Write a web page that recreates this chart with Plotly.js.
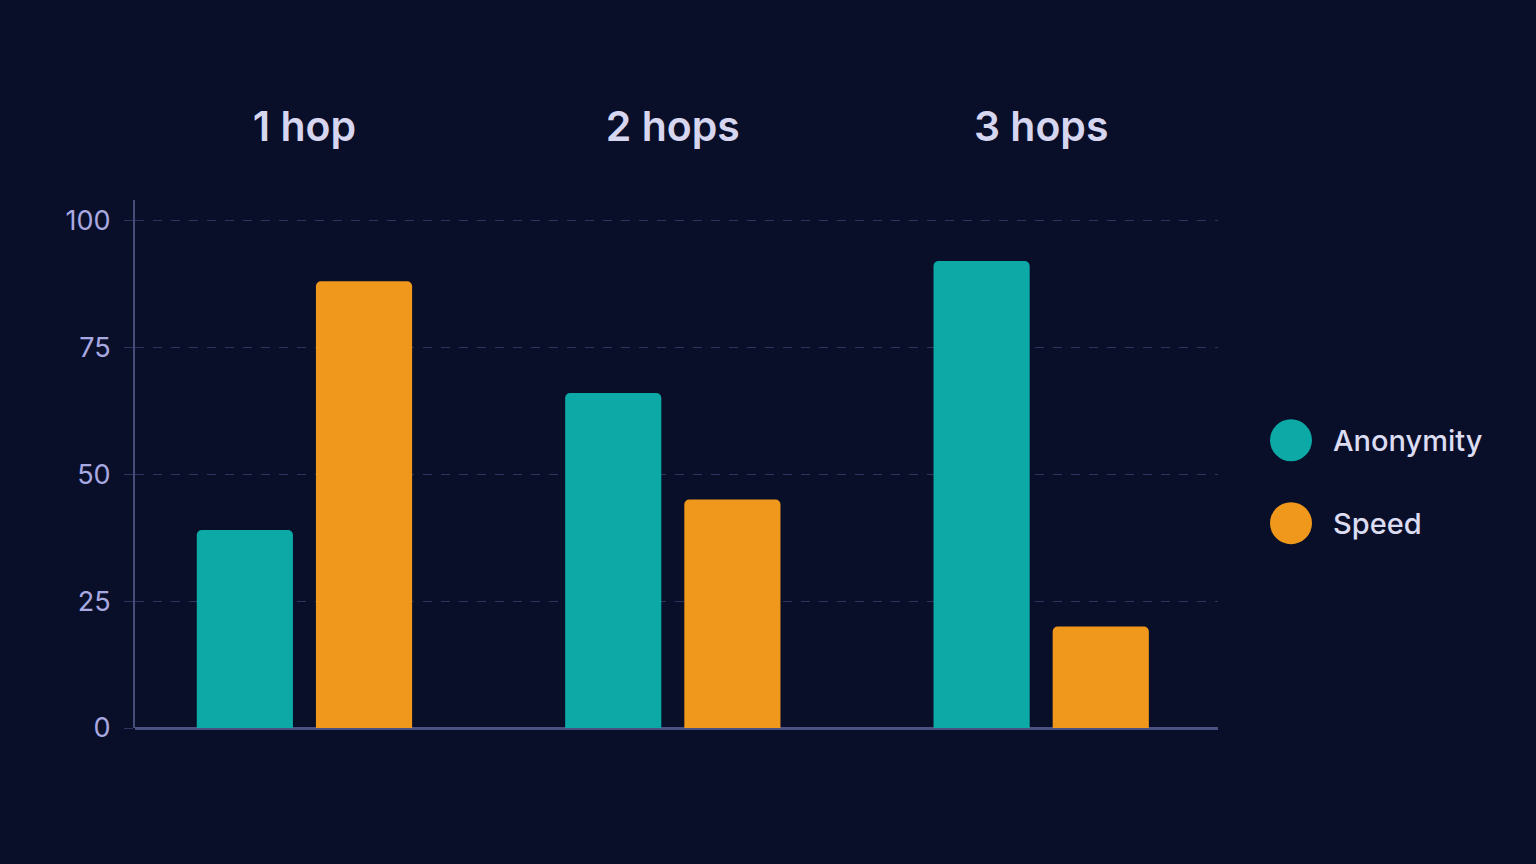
<!DOCTYPE html>
<html>
<head>
<meta charset="utf-8">
<script src="https://cdn.plot.ly/plotly-3.0.1.min.js"></script>
<style>
  html, body { margin: 0; padding: 0; background: #0a0f29; }
  #chart { width: 1536px; height: 864px; }
</style>
</head>
<body>
<div id="chart"></div>
<script>
const hops = ['1 hop', '2 hops', '3 hops'];
const anonymity = [39, 66, 92];
const speed = [88, 45, 20];
const seriesNames = ['Anonymity', 'Speed'];
const seriesColors = ['#0ca9a6', '#ef981b'];
const yTicks = [0, 25, 50, 75, 100];

const traces = [anonymity, speed].map((vals, i) => ({
    type: 'bar',
    name: seriesNames[i],
    x: hops,
    y: vals,
    marker: { color: seriesColors[i], cornerradius: 5 },
    hoverinfo: 'x+y+name',
    showlegend: false
}));

// custom legend: big round swatches + labels to the right of the plot
const shapes = [];
const annotations = [];
seriesNames.forEach((name, i) => {
    const yc = 0.545 - i * 0.157;
    shapes.push({
        type: 'circle', xref: 'paper', yref: 'paper',
        xsizemode: 'pixel', ysizemode: 'pixel',
        xanchor: 1.0674, yanchor: yc,
        x0: -21, x1: 21, y0: -21, y1: 21,
        fillcolor: seriesColors[i], line: { width: 0 }
    });
    annotations.push({
        xref: 'paper', yref: 'paper', x: 1.104, y: yc,
        xanchor: 'left', yanchor: 'middle', showarrow: false,
        text: name,
        font: { family: 'Inter, "Noto Sans", sans-serif', size: 29, color: '#dcdcf2', weight: 500 }
    });
});

const layout = {
    width: 1536, height: 864,
    paper_bgcolor: '#0a0f29', plot_bgcolor: '#0a0f29',
    margin: { l: 135, r: 318, t: 200, b: 136 },
    barmode: 'group', bargap: 0.353, bargroupgap: 0.193,
    xaxis: {
        side: 'top', range: [-0.46, 2.48],
        showgrid: false, showline: false, zeroline: false, ticks: '',
        ticklabelstandoff: 50,
        tickfont: { family: 'Inter, "Noto Sans", sans-serif', size: 41, color: '#d6d6f0', weight: 600 }
    },
    yaxis: {
        range: [0, 104], tickvals: yTicks,
        showline: true, linecolor: '#454d78', linewidth: 2,
        showgrid: true, gridcolor: '#2b3560', griddash: 'dash', gridwidth: 1,
        zeroline: true, zerolinecolor: '#4a5280', zerolinewidth: 3,
        ticks: 'outside', ticklen: 9, tickcolor: '#2b3560',
        ticklabelstandoff: 8,
        tickfont: { family: 'Inter, "Noto Sans", sans-serif', size: 27, color: '#a9a9e2' }
    },
    shapes: shapes,
    annotations: annotations
};

Plotly.newPlot('chart', traces, layout, { displayModeBar: false, staticPlot: true });
</script>
</body>
</html>
